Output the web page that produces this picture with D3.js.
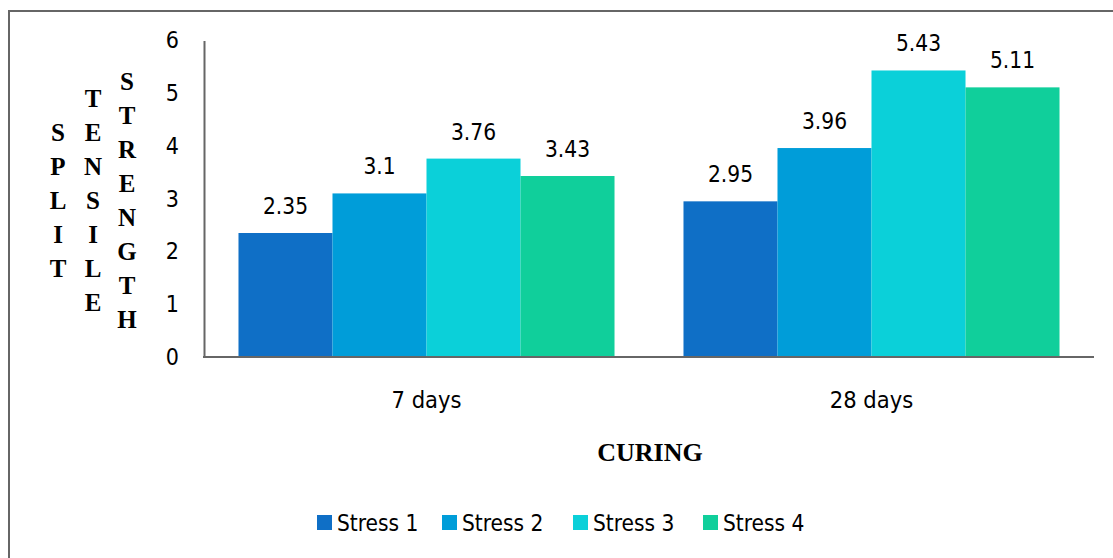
<!DOCTYPE html>
<html>
<head>
<meta charset="utf-8">
<script src="https://cdn.jsdelivr.net/npm/d3@7"></script>
<style>
  html, body { margin: 0; padding: 0; background: #fff; }
  svg { display: block; }
</style>
</head>
<body>
<svg id="chart" width="1113" height="558"></svg>
<script>
const categories = ["7 days", "28 days"];
const seriesNames = ["Stress 1", "Stress 2", "Stress 3", "Stress 4"];
const stress1 = [2.35, 2.95];
const stress2 = [3.1, 3.96];
const stress3 = [3.76, 5.43];
const stress4 = [3.43, 5.11];
const yTicks = [0, 1, 2, 3, 4, 5, 6];
const yTitleWords = ["SPLIT", "TENSILE", "STRENGTH"];
const xTitle = "CURING";
const colors = ["#0F6FC6", "#009DD9", "#0BD0D9", "#10CF9B"];

const seriesValues = [stress1, stress2, stress3, stress4];
const data = categories.map((c, i) => ({
  cat: c,
  vals: seriesNames.map((s, j) => ({ name: s, value: seriesValues[j][i], color: colors[j] }))
}));

const FONT = "'Liberation Sans Narrow', 'Arial Narrow', 'DejaVu Sans Condensed', sans-serif";
const svg = d3.select("#chart");

// outer border
svg.append("rect")
  .attr("x", 9).attr("y", 11).attr("width", 1120).attr("height", 560)
  .attr("fill", "none").attr("stroke", "#666").attr("stroke-width", 2);

const plotL = 204, plotR = 1094, plotT = 40.4, plotB = 357;
const x0 = d3.scaleBand().domain(categories).range([plotL, plotR]).paddingInner(0.155).paddingOuter(0.0775);
const x1 = d3.scaleBand().domain(seriesNames).range([0, x0.bandwidth()]).padding(0);
const y = d3.scaleLinear().domain([0, 6]).range([plotB, plotT]);

// bars
const groups = svg.append("g").selectAll("g").data(data).join("g")
  .attr("transform", d => `translate(${x0(d.cat)},0)`);
groups.selectAll("rect").data(d => d.vals).join("rect")
  .attr("x", d => x1(d.name))
  .attr("y", d => y(d.value))
  .attr("width", x1.bandwidth())
  .attr("height", d => y(0) - y(d.value))
  .attr("fill", d => d.color);
groups.selectAll("text").data(d => d.vals).join("text")
  .attr("x", d => x1(d.name) + x1.bandwidth() / 2)
  .attr("y", d => y(d.value) - 19)
  .attr("text-anchor", "middle")
  .style("font-family", FONT).style("font-size", "22.5px").attr("fill", "#000")
  .text(d => d.value);

// y axis
const yAxis = d3.axisLeft(y).tickValues(yTicks).tickSize(0).tickPadding(25).tickFormat(d3.format("d"));
const gy = svg.append("g").attr("transform", `translate(${plotL},0)`).call(yAxis);
gy.select(".domain").attr("stroke", "#666").attr("stroke-width", 2);
gy.selectAll("text").style("font-family", FONT).style("font-size", "23px").attr("fill", "#000");

// x axis
const xAxis = d3.axisBottom(x0).tickSize(0).tickPadding(34);
const gx = svg.append("g").attr("transform", `translate(0,${plotB})`).call(xAxis);
gx.select(".domain").attr("stroke", "#666").attr("stroke-width", 2).attr("d", `M${plotL - 1},0H${plotR}`);
gx.selectAll("text").style("font-family", FONT).style("font-size", "23.5px").attr("fill", "#000");

// x title
svg.append("text")
  .attr("x", 650).attr("y", 461)
  .attr("text-anchor", "middle")
  .style("font-family", "'Liberation Serif', 'Times New Roman', serif")
  .style("font-weight", "bold").style("font-size", "26px")
  .text(xTitle);

// y title: stacked letters
const colX = [58, 93, 127];
const spacing = 34;
const midY = 200;
yTitleWords.forEach((w, i) => {
  const letters = w.split("");
  const n = letters.length;
  svg.append("g").selectAll("text").data(letters).join("text")
    .attr("x", colX[i])
    .attr("y", (d, k) => midY + (k - (n - 1) / 2) * spacing)
    .attr("dy", "0.35em")
    .attr("text-anchor", "middle")
    .style("font-family", "'Liberation Serif', 'Times New Roman', serif")
    .style("font-weight", "bold").style("font-size", "25px")
    .text(d => d);
});

// legend
const legendX = [317, 442, 573, 703];
const lg = svg.append("g").selectAll("g").data(seriesNames).join("g")
  .attr("transform", (d, i) => `translate(${legendX[i]},515)`);
lg.append("rect").attr("width", 15).attr("height", 15).attr("fill", (d, i) => colors[i]);
lg.append("text").attr("x", 20).attr("y", 8).attr("dy", "0.35em")
  .style("font-family", FONT).style("font-size", "22.5px").text(d => d);
</script>
</body>
</html>
